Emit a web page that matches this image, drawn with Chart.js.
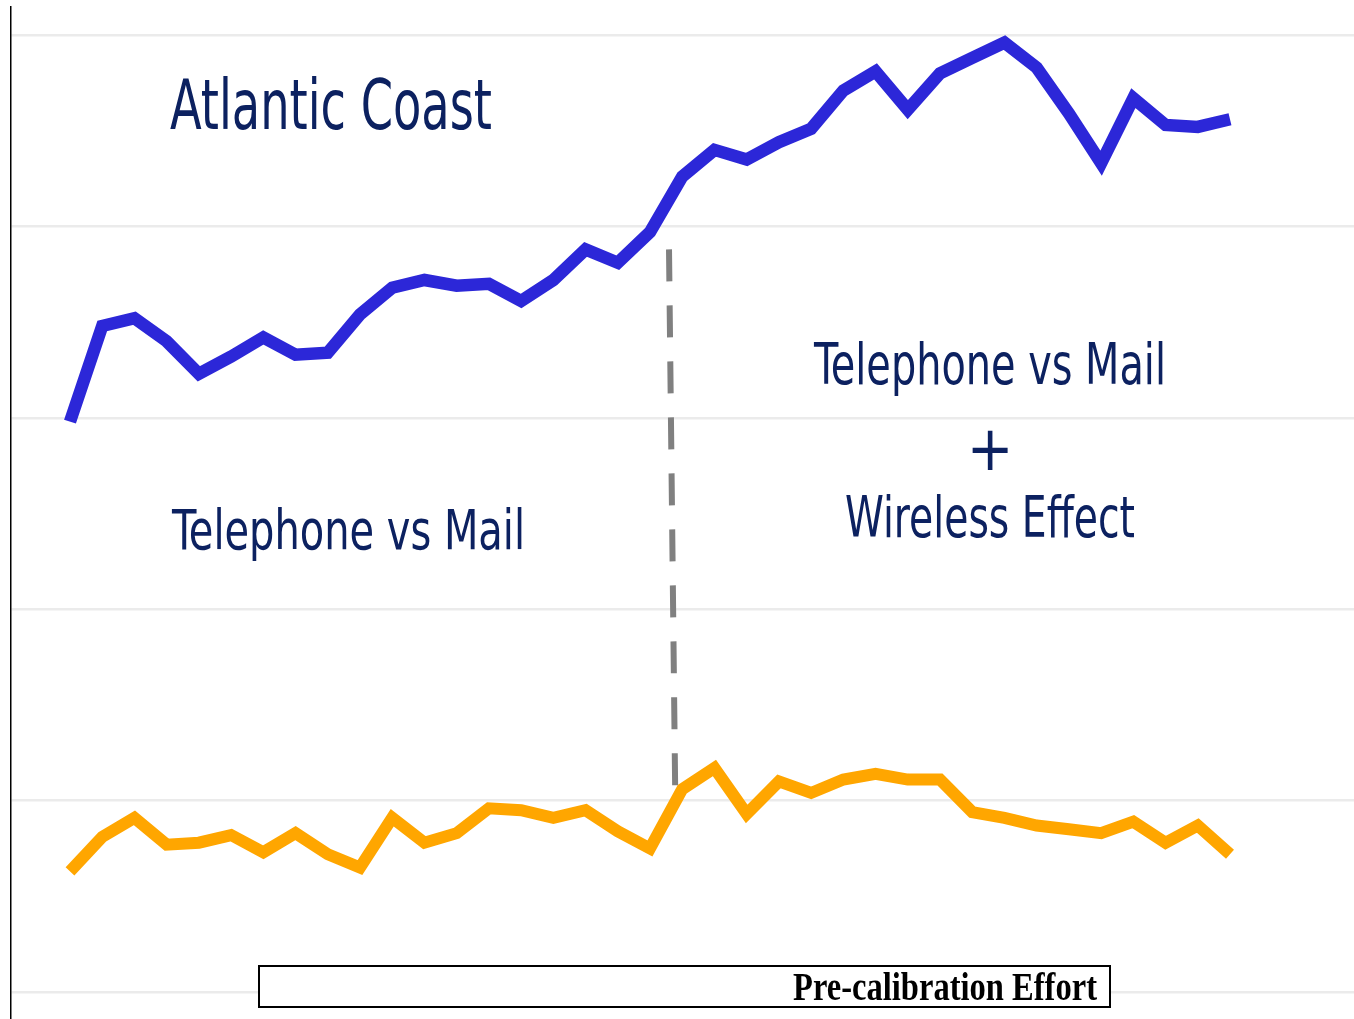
<!DOCTYPE html>
<html>
<head>
<meta charset="utf-8">
<script src="https://cdn.jsdelivr.net/npm/chart.js@4/dist/chart.umd.min.js"></script>
<style>
  html, body { margin: 0; padding: 0; background: #ffffff; }
  #wrap { width: 1354px; height: 1019px; }
</style>
</head>
<body>
<div id="wrap"><canvas id="c" width="1354" height="1019"></canvas></div>
<script>
// Periods (categories)
const periods = [1,2,3,4,5,6,7,8,9,10,11,12,13,14,15,16,17,18,19,20,21,22,23,24,25,26,27,28,29,30,31,32,33,34,35,36,37];
// Atlantic Coast series (blue, upper)
const blueValues = [2.98,3.48,3.52,3.40,3.23,3.32,3.42,3.33,3.34,3.54,3.68,3.72,3.69,3.70,3.61,3.72,3.88,3.81,3.97,4.26,4.40,4.35,4.44,4.51,4.71,4.81,4.61,4.80,4.88,4.96,4.83,4.59,4.33,4.67,4.53,4.52,4.56];
// Orange series (lower)
const orangeValues = [0.63,0.81,0.91,0.77,0.78,0.82,0.73,0.83,0.72,0.65,0.91,0.78,0.83,0.96,0.95,0.91,0.95,0.84,0.75,1.06,1.17,0.93,1.10,1.04,1.11,1.14,1.11,1.11,0.94,0.91,0.87,0.85,0.83,0.89,0.78,0.87,0.72];
// Calibration break (dashed marker), in data units
const breakX = [19.59, 19.78];
const breakY = [3.88, 1.08];
// Gridline ticks
const yTicks = [0,1,2,3,4,5];

const blueData = periods.map((p, i) => ({x: p, y: blueValues[i]}));
const orangeData = periods.map((p, i) => ({x: p, y: orangeValues[i]}));
const breakData = breakX.map((x, i) => ({x: x, y: breakY[i]}));

const NAVY = '#0c2160';
const NARROW = "'Liberation Sans Narrow', 'Arial Narrow', 'DejaVu Sans Condensed', sans-serif";

function drawFit(ctx, text, left, right, baseline, size, font, color) {
  ctx.save();
  ctx.font = font.replace('SIZE', size + 'px');
  ctx.fillStyle = color;
  ctx.textAlign = 'left';
  ctx.textBaseline = 'alphabetic';
  const w = ctx.measureText(text).width;
  const sx = (right - left) / w;
  ctx.translate(left, baseline);
  ctx.scale(sx, 1);
  ctx.fillText(text, 0, 0);
  ctx.restore();
}

const annotations = {
  id: 'annotations',
  afterDraw(chart) {
    const ctx = chart.ctx;
    drawFit(ctx, 'Atlantic Coast', 170, 492, 129, 69, 'SIZE ' + NARROW, NAVY);
    drawFit(ctx, 'Telephone vs Mail', 172, 525, 549, 56, 'SIZE ' + NARROW, NAVY);
    drawFit(ctx, 'Telephone vs Mail', 814, 1166, 384, 57, 'SIZE ' + NARROW, NAVY);
    drawFit(ctx, 'Wireless Effect', 845, 1135, 537, 57, 'SIZE ' + NARROW, NAVY);
    // plus sign
    ctx.save();
    ctx.font = '62px ' + NARROW;
    ctx.fillStyle = NAVY;
    ctx.textAlign = 'center';
    ctx.textBaseline = 'alphabetic';
    ctx.fillText('+', 990, 470);
    ctx.restore();
    // box
    ctx.save();
    ctx.fillStyle = '#ffffff';
    ctx.fillRect(258, 965, 852, 42);
    ctx.strokeStyle = '#000000';
    ctx.lineWidth = 2;
    ctx.strokeRect(259, 966, 851, 41);
    ctx.restore();
    drawFit(ctx, 'Pre-calibration Effort', 793, 1097, 1000, 40, 'bold SIZE "Liberation Serif", "Times New Roman", serif', '#000000');
  }
};

const unit = 1160 / 36;
const xMin = 1 - 59 / unit;
const xMax = 37 + 124 / unit;
const pxPerY = 191.4;
const yMax = 5 + 28 / pxPerY;
const yMin = 0 - 27 / pxPerY;

new Chart(document.getElementById('c'), {
  type: 'line',
  data: {
    datasets: [
      { label: 'Atlantic Coast', data: blueData, borderColor: '#2c27d8', borderWidth: 12.5, pointRadius: 0, tension: 0, borderJoinStyle: 'miter', fill: false },
      { label: 'Orange', data: orangeData, borderColor: '#ffa600', borderWidth: 12, pointRadius: 0, tension: 0, borderJoinStyle: 'miter', fill: false },
      { label: 'Break', data: breakData, borderColor: '#808080', borderWidth: 6, borderDash: [32, 24], pointRadius: 0, tension: 0, fill: false }
    ]
  },
  options: {
    responsive: false,
    devicePixelRatio: 1,
    animation: false,
    layout: { padding: { left: 11, top: 7, right: 0, bottom: 0 } },
    plugins: { legend: { display: false }, tooltip: { enabled: false }, title: { display: false } },
    scales: {
      x: { type: 'linear', min: xMin, max: xMax, display: false },
      y: {
        type: 'linear', min: yMin, max: yMax,
        afterBuildTicks: (scale) => { scale.ticks = yTicks.map(v => ({ value: v })); },
        ticks: { display: false, includeBounds: false, stepSize: 1 },
        grid: { color: '#ebebeb', lineWidth: 2.5, drawTicks: false, tickLength: 0 },
        border: { display: true, color: '#000000', width: 1.5 }
      }
    }
  },
  plugins: [annotations]
});
</script>
</body>
</html>
